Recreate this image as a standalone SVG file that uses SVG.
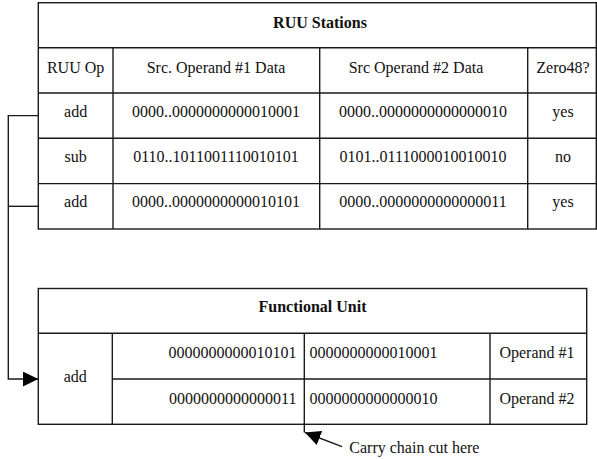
<svg xmlns="http://www.w3.org/2000/svg" width="597" height="459" viewBox="0 0 597 459" font-family="'Liberation Serif', 'Times New Roman', Times, serif">
  <defs>
    <style>
      .ln { stroke: #1a1a1a; stroke-width: 1.4; fill: none; }
      .box { stroke: #1a1a1a; stroke-width: 1.4; fill: #ffffff; }
      text { font-family: 'Liberation Serif', 'Times New Roman', Times, serif; font-size: 16px; fill: #111111; }
      .c { text-anchor: middle; }
      .r { text-anchor: end; }
      .b { font-weight: bold; }
    </style>
    <marker id="head" markerUnits="userSpaceOnUse" markerWidth="16" markerHeight="16" refX="15.5" refY="7.5" orient="auto">
      <path d="M0,0 L15.5,7.5 L0,15 z" fill="#000000"/>
    </marker>
  </defs>

  <rect width="597" height="459" fill="#ffffff"/>

  <!-- reservation stations table -->
  <g id="ruu-stations">
    <rect class="box" x="38.3" y="2.7" width="558" height="226.3"/>
    <line class="ln" x1="38.3" y1="47.7" x2="597" y2="47.7"/>
    <line class="ln" x1="38.3" y1="93" x2="597" y2="93"/>
    <line class="ln" x1="38.3" y1="138.3" x2="597" y2="138.3"/>
    <line class="ln" x1="38.3" y1="183.6" x2="597" y2="183.6"/>
    <line class="ln" x1="113" y1="47.7" x2="113" y2="229"/>
    <line class="ln" x1="319.7" y1="47.7" x2="319.7" y2="229"/>
    <line class="ln" x1="527.7" y1="47.7" x2="527.7" y2="229"/>

    <text class="c b" x="320" y="27.5">RUU Stations</text>

    <text class="c" x="75.6" y="73.3">RUU Op</text>
    <text class="c" x="216" y="73.3">Src. Operand #1 Data</text>
    <text class="c" x="416" y="73.3">Src Operand #2 Data</text>
    <text class="c" x="563" y="73.3">Zero48?</text>

    <text class="c" x="75.6" y="116.7">add</text>
    <text class="c" x="216" y="116.7">0000..0000000000010001</text>
    <text class="c" x="423" y="116.7">0000..0000000000000010</text>
    <text class="c" x="563" y="116.7">yes</text>

    <text class="c" x="75.6" y="162">sub</text>
    <text class="c" x="216" y="162">0110..1011001110010101</text>
    <text class="c" x="423" y="162">0101..0111000010010010</text>
    <text class="c" x="563" y="162">no</text>

    <text class="c" x="75.6" y="206.7">add</text>
    <text class="c" x="216" y="206.7">0000..0000000000010101</text>
    <text class="c" x="423" y="206.7">0000..0000000000000011</text>
    <text class="c" x="563" y="206.7">yes</text>
  </g>

  <!-- functional unit table -->
  <g id="functional-unit">
    <rect class="box" x="38.3" y="288.5" width="548.4" height="135.8"/>
    <line class="ln" x1="38.3" y1="333.3" x2="586.7" y2="333.3"/>
    <line class="ln" x1="112.3" y1="379" x2="586.7" y2="379"/>
    <line class="ln" x1="112.3" y1="333.3" x2="112.3" y2="424.3"/>
    <line class="ln" x1="304.3" y1="333.3" x2="304.3" y2="432.5"/>
    <line class="ln" x1="490" y1="333.3" x2="490" y2="424.3"/>

    <text class="c b" x="312.5" y="312.3">Functional Unit</text>

    <text class="c" x="75.3" y="381.7">add</text>
    <text class="r" x="296.5" y="358.3">0000000000010101</text>
    <text class="r" x="296.5" y="403.5">0000000000000011</text>
    <text x="309.5" y="358.3">0000000000010001</text>
    <text x="309.5" y="403.5">0000000000000010</text>
    <text class="c" x="537" y="358.3">Operand #1</text>
    <text class="c" x="537" y="403.5">Operand #2</text>
  </g>

  <!-- connectors -->
  <g id="connectors">
    <polyline class="ln" points="38.3,115.6 8.3,115.6 8.3,379 38.3,379" marker-end="url(#head)"/>
    <line class="ln" x1="8.3" y1="206.3" x2="38.3" y2="206.3"/>
    <line class="ln" x1="342" y1="446.7" x2="305" y2="432.5" marker-end="url(#head)"/>
  </g>

  <g id="carry-label">
    <text x="349.3" y="453.3">Carry chain cut here</text>
  </g>
</svg>
